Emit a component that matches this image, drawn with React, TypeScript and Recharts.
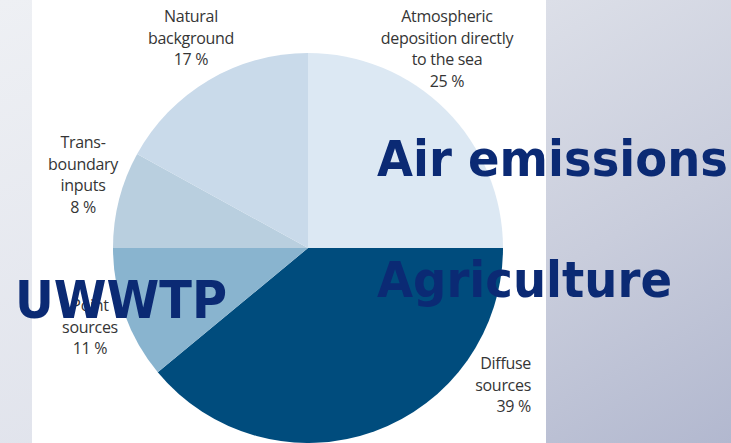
import { PieChart, Pie, Cell } from 'recharts';

// shares of the total load, clockwise from 12 o'clock
const sources = ['Atmospheric deposition directly to the sea', 'Diffuse sources', 'Point sources', 'Trans-boundary inputs', 'Natural background'];
const shares = [25, 39, 11, 8, 17];
const labelLines = [
  ['Atmospheric', 'deposition directly', 'to the sea', '25 %'],
  ['Diffuse', 'sources', '39 %'],
  ['Point', 'sources', '11 %'],
  ['Trans-', 'boundary', 'inputs', '8 %'],
  ['Natural', 'background', '17 %'],
];
const overlayWords = ['Air emissions', 'Agriculture', 'UWWTP'];

const sliceColors = ['#dce8f3', '#004c7d', '#89b4cf', '#b9cfdf', '#c9daea'];
// label anchor (x, first line y, text-anchor) per slice
const labelPos: [number, number, string][] = [
  [447, 22, 'middle'],
  [531, 369, 'end'],
  [90, 311, 'middle'],
  [83, 148, 'middle'],
  [191, 22, 'middle'],
];
const overlayPos = [
  { x: 377, y: 176, w: 351, size: 50 },
  { x: 377, y: 297, w: 295, size: 50 },
  { x: 15, y: 318, w: 212, size: 52 },
];

const chartData = sources.map((name, i) => ({ name, value: shares[i] }));

function renderLabel(props: any) {
  const i = props.index;
  const [x, y, anchor] = labelPos[i];
  return (
    <text x={x} y={y} textAnchor={anchor} fill="#353535" fontSize={16} fontFamily="'Open Sans', sans-serif" letterSpacing={-0.3}>
      {labelLines[i].map((line, k) => (
        <tspan key={k} x={x} dy={k === 0 ? 0 : 21.5}>{line}</tspan>
      ))}
    </text>
  );
}

export default function App() {
  return (
    <div style={{ position: 'absolute', left: 0, top: 0, width: 731, height: 443, overflow: 'hidden' }}>
      <div style={{ position: 'absolute', left: 0, top: 0, width: 731, height: 443, background: 'linear-gradient(160deg, #eef0f4 0%, #dadde8 100%)' }} />
      <div style={{ position: 'absolute', left: 546, top: 0, width: 185, height: 443, background: 'linear-gradient(150deg, #dcdfe8 0%, #c9cddc 50%, #b2b8cf 100%)' }} />
      <div style={{ position: 'absolute', left: 32, top: 0, width: 514, height: 443, background: '#ffffff' }} />
      <div style={{ position: 'absolute', left: 0, top: 0 }}>
        <PieChart width={731} height={443} margin={{ top: 0, right: 0, bottom: 0, left: 0 }}>
          <Pie
            data={chartData}
            dataKey="value"
            nameKey="name"
            cx={308}
            cy={248}
            outerRadius={195}
            startAngle={90}
            endAngle={-270}
            stroke="none"
            labelLine={false}
            label={renderLabel}
            isAnimationActive={false}
          >
            {chartData.map((d, i) => (
              <Cell key={d.name} fill={sliceColors[i]} />
            ))}
          </Pie>
        </PieChart>
      </div>
      <svg width={731} height={443} style={{ position: 'absolute', left: 0, top: 0, pointerEvents: 'none' }}>
        {overlayWords.map((word, i) => (
          <text
            key={word}
            x={overlayPos[i].x}
            y={overlayPos[i].y}
            fill="#0b2a74"
            fontSize={overlayPos[i].size}
            fontWeight="bold"
            fontFamily="'DejaVu Sans', sans-serif"
            textLength={overlayPos[i].w}
            lengthAdjust="spacingAndGlyphs"
          >
            {word}
          </text>
        ))}
      </svg>
    </div>
  );
}
